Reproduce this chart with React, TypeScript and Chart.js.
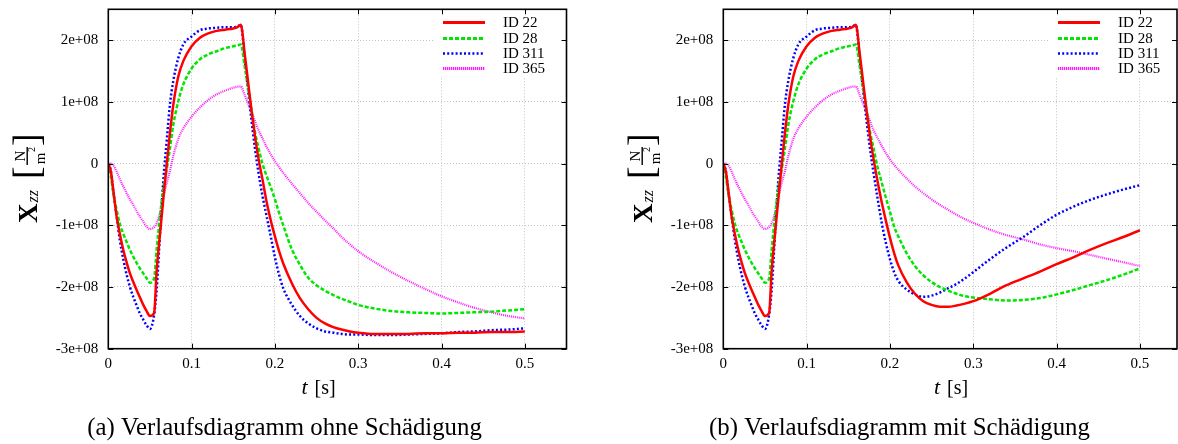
import React, { useEffect, useRef } from 'react';
import { Chart, registerables } from 'chart.js';

Chart.register(...registerables);

// time t [s]
const timeS = [0, 0.003, 0.006, 0.01, 0.014, 0.018, 0.022, 0.026, 0.03, 0.034, 0.038, 0.042, 0.046, 0.05, 0.055, 0.058, 0.062, 0.066, 0.07, 0.074, 0.078, 0.084, 0.09, 0.1, 0.11, 0.12, 0.13, 0.14, 0.15, 0.155, 0.159, 0.164, 0.168, 0.172, 0.176, 0.18, 0.185, 0.19, 0.195, 0.2, 0.205, 0.21, 0.22, 0.23, 0.24, 0.25, 0.26, 0.27, 0.28, 0.29, 0.3, 0.32, 0.34, 0.36, 0.38, 0.4, 0.42, 0.44, 0.46, 0.48, 0.5];

// X_zz in units of 1e+08 N/m^2 — (a) ohne Schädigung
const a_id22 = [0, -0.12, -0.43, -0.86, -1.15, -1.40, -1.60, -1.78, -1.92, -2.05, -2.17, -2.29, -2.39, -2.47, -2.42, -1.75, -1.15, -0.58, -0.03, 0.50, 0.95, 1.41, 1.66, 1.90, 2.04, 2.11, 2.15, 2.17, 2.19, 2.21, 2.25, 1.75, 1.30, 0.85, 0.45, 0.10, -0.25, -0.62, -0.92, -1.18, -1.42, -1.62, -1.93, -2.18, -2.36, -2.50, -2.59, -2.65, -2.69, -2.72, -2.74, -2.76, -2.76, -2.76, -2.75, -2.75, -2.74, -2.74, -2.73, -2.73, -2.72];
const a_id28 = [0, -0.20, -0.48, -0.75, -0.98, -1.14, -1.27, -1.40, -1.51, -1.61, -1.70, -1.78, -1.86, -1.93, -1.86, -1.40, -0.86, -0.40, -0.10, 0.25, 0.63, 1.01, 1.28, 1.54, 1.69, 1.77, 1.82, 1.87, 1.90, 1.915, 1.93, 1.55, 1.20, 0.86, 0.52, 0.27, 0.00, -0.20, -0.38, -0.58, -0.80, -1.00, -1.38, -1.64, -1.85, -1.97, -2.06, -2.13, -2.19, -2.24, -2.29, -2.35, -2.39, -2.41, -2.42, -2.43, -2.42, -2.41, -2.40, -2.38, -2.36];
const a_id311 = [0, -0.12, -0.45, -0.85, -1.25, -1.55, -1.80, -2.00, -2.16, -2.30, -2.43, -2.53, -2.62, -2.68, -2.45, -2.05, -1.15, -0.28, 0.35, 0.96, 1.34, 1.71, 1.93, 2.06, 2.16, 2.19, 2.20, 2.21, 2.21, 2.22, 2.25, 1.66, 1.17, 0.69, 0.25, -0.12, -0.52, -0.85, -1.18, -1.52, -1.80, -2.02, -2.28, -2.47, -2.59, -2.67, -2.72, -2.74, -2.76, -2.77, -2.77, -2.78, -2.78, -2.77, -2.76, -2.75, -2.73, -2.72, -2.70, -2.69, -2.67];
const a_id365 = [0, 0.00, -0.03, -0.13, -0.26, -0.37, -0.48, -0.58, -0.67, -0.77, -0.86, -0.94, -1.02, -1.06, -1.03, -0.97, -0.80, -0.55, -0.32, -0.12, 0.12, 0.40, 0.57, 0.76, 0.91, 1.03, 1.12, 1.18, 1.23, 1.245, 1.25, 1.10, 0.97, 0.83, 0.69, 0.55, 0.41, 0.27, 0.15, 0.04, -0.06, -0.15, -0.32, -0.48, -0.64, -0.78, -0.92, -1.05, -1.19, -1.31, -1.42, -1.60, -1.76, -1.90, -2.03, -2.15, -2.25, -2.34, -2.41, -2.47, -2.51];

// X_zz in units of 1e+08 N/m^2 — (b) mit Schädigung
const b_id22 = [0, -0.12, -0.43, -0.86, -1.15, -1.40, -1.60, -1.78, -1.92, -2.05, -2.17, -2.29, -2.39, -2.47, -2.42, -1.75, -1.15, -0.58, -0.03, 0.50, 0.95, 1.41, 1.66, 1.90, 2.04, 2.11, 2.15, 2.17, 2.19, 2.21, 2.25, 1.75, 1.30, 0.85, 0.45, 0.10, -0.28, -0.62, -0.92, -1.20, -1.45, -1.65, -1.92, -2.11, -2.23, -2.29, -2.32, -2.32, -2.30, -2.27, -2.23, -2.11, -1.97, -1.86, -1.75, -1.63, -1.52, -1.40, -1.29, -1.19, -1.08];
const b_id28 = [0, -0.20, -0.48, -0.75, -0.98, -1.14, -1.27, -1.40, -1.51, -1.61, -1.70, -1.78, -1.86, -1.93, -1.86, -1.40, -0.86, -0.40, -0.10, 0.25, 0.63, 1.01, 1.28, 1.54, 1.69, 1.77, 1.82, 1.87, 1.90, 1.915, 1.93, 1.55, 1.20, 0.86, 0.52, 0.27, -0.05, -0.30, -0.55, -0.78, -1.02, -1.18, -1.45, -1.66, -1.81, -1.92, -2.00, -2.06, -2.11, -2.15, -2.17, -2.20, -2.22, -2.21, -2.18, -2.12, -2.05, -1.97, -1.89, -1.80, -1.70];
const b_id311 = [0, -0.12, -0.45, -0.85, -1.25, -1.55, -1.80, -2.00, -2.16, -2.30, -2.43, -2.53, -2.62, -2.68, -2.45, -2.05, -1.15, -0.28, 0.35, 0.96, 1.34, 1.71, 1.93, 2.06, 2.16, 2.19, 2.20, 2.21, 2.21, 2.22, 2.25, 1.66, 1.17, 0.69, 0.25, -0.12, -0.55, -0.95, -1.28, -1.55, -1.76, -1.90, -2.04, -2.12, -2.16, -2.14, -2.09, -2.02, -1.95, -1.86, -1.76, -1.55, -1.36, -1.19, -1.00, -0.83, -0.70, -0.59, -0.50, -0.42, -0.35];
const b_id365 = [0, 0.00, -0.03, -0.13, -0.26, -0.37, -0.48, -0.58, -0.67, -0.77, -0.86, -0.94, -1.02, -1.06, -1.03, -0.97, -0.80, -0.55, -0.32, -0.12, 0.12, 0.40, 0.57, 0.76, 0.91, 1.03, 1.12, 1.18, 1.23, 1.245, 1.25, 1.10, 0.97, 0.83, 0.69, 0.55, 0.42, 0.29, 0.17, 0.07, -0.02, -0.10, -0.24, -0.37, -0.48, -0.58, -0.67, -0.75, -0.83, -0.90, -0.96, -1.07, -1.16, -1.23, -1.31, -1.37, -1.42, -1.48, -1.54, -1.60, -1.66];

const seriesNames = ['ID 22', 'ID 28', 'ID 311', 'ID 365'];
const seriesColors = ['#ff0000', '#00e600', '#0000ff', '#ff1aff'];
const seriesWidths = [2.5, 2.5, 2.5, 2.2];
const seriesDashes: number[][] = [[], [4, 2], [2, 2.2], [1, 1]];
const legendWidths = [3, 3, 2.5, 3];
const legendDashes: number[][] = [[], [4, 2], [2, 2.2], [1.3, 0.7]];

const captionA = '(a) Verlaufsdiagramm ohne Schädigung';
const captionB = '(b) Verlaufsdiagramm mit Schädigung';

const FONT = '"Liberation Serif", "DejaVu Serif", serif';

type PanelProps = {
  left: number;
  width: number;
  yAxisWidth: number;
  padRight: number;
  xMax: number;
  series: number[][];
  caption: string;
  captionCenter: number;
  titleCenter: number;
};

function makeDecor(p: PanelProps) {
  return {
    id: 'panelDecor',
    afterDatasetsDraw(chart: any) {
      const ctx = chart.ctx as CanvasRenderingContext2D;
      const { top } = chart.chartArea;
      const xs = chart.scales.x;
      const R = xs.getPixelForValue(0.55);
      // legend box
      ctx.save();
      ctx.fillStyle = '#ffffff';
      ctx.fillRect(R - 133.5, top + 1.5, 131, 66);
      chart.data.datasets.forEach((ds: any, i: number) => {
        const y = Math.round(top + 13 + i * 15.3) + 0.5;
        const x1 = Math.round(R - 123.5);
        ctx.beginPath();
        ctx.strokeStyle = seriesColors[i];
        ctx.lineWidth = legendWidths[i];
        ctx.setLineDash(legendDashes[i]);
        ctx.moveTo(x1, y);
        ctx.lineTo(x1 + 42, y);
        ctx.stroke();
        ctx.setLineDash([]);
        ctx.fillStyle = '#000';
        ctx.font = `15px ${FONT}`;
        ctx.textAlign = 'left';
        ctx.textBaseline = 'middle';
        ctx.fillText(ds.label, R - 63.5, y + 0.5);
      });
      ctx.restore();
    },
    afterDraw(chart: any) {
      const ctx = chart.ctx as CanvasRenderingContext2D;
      const { left, top, bottom } = chart.chartArea;
      const right = Math.min(chart.chartArea.right, chart.width - 1);
      const xs = chart.scales.x;
      const ys = chart.scales.y;
      ctx.save();
      // frame
      ctx.strokeStyle = '#000';
      ctx.lineWidth = 1.6;
      ctx.strokeRect(left, top, right - left, bottom - top);
      // inward ticks
      ctx.lineWidth = 1;
      ctx.beginPath();
      xs.ticks.forEach((t: any) => {
        const x = Math.round(xs.getPixelForValue(t.value)) + 0.5;
        ctx.moveTo(x, bottom);
        ctx.lineTo(x, bottom - 5);
        ctx.moveTo(x, top);
        ctx.lineTo(x, top + 5);
      });
      ys.ticks.forEach((t: any) => {
        const y = Math.round(ys.getPixelForValue(t.value)) + 0.5;
        ctx.moveTo(left, y);
        ctx.lineTo(left + 5, y);
        ctx.moveTo(right, y);
        ctx.lineTo(right - 5, y);
      });
      ctx.stroke();

      ctx.fillStyle = '#000';
      // y-axis title: X_zz [N/m^2], rotated
      ctx.save();
      ctx.translate(left - 71, 223);
      ctx.rotate(-Math.PI / 2);
      ctx.textBaseline = 'alphabetic';
      ctx.textAlign = 'left';
      ctx.font = `bold 27px ${FONT}`;
      ctx.fillText('X', 0, 0);
      const wX = ctx.measureText('X').width;
      ctx.font = `italic 16px ${FONT}`;
      ctx.fillText('zz', wX + 1, 1);
      ctx.font = `38px ${FONT}`;
      ctx.fillText('[', 44, 2);
      ctx.fillText(']', 77, 2);
      ctx.font = `15px ${FONT}`;
      ctx.textAlign = 'center';
      ctx.fillText('N', 67, -12);
      ctx.fillRect(58, -10.8, 18, 1.4);
      ctx.fillText('m', 64.5, 8);
      ctx.font = `10px ${FONT}`;
      ctx.textAlign = 'left';
      ctx.fillText('2', 71, -2);
      ctx.restore();

      // x-axis title: t [s]
      ctx.textBaseline = 'alphabetic';
      ctx.textAlign = 'left';
      ctx.font = `italic 22px ${FONT}`;
      const wt = ctx.measureText('t').width;
      ctx.font = `20px ${FONT}`;
      const ws = ctx.measureText('[s]').width;
      const total = wt + 7 + ws;
      const x0 = p.titleCenter - total / 2;
      ctx.font = `italic 22px ${FONT}`;
      ctx.fillText('t', x0, 394);
      ctx.font = `20px ${FONT}`;
      ctx.fillText('[s]', x0 + wt + 7, 394);

      // caption
      ctx.font = `24.8px ${FONT}`;
      ctx.textAlign = 'center';
      ctx.fillText(p.caption, p.captionCenter, 435);
      ctx.restore();
    },
  };
}

function Panel(p: PanelProps) {
  const ref = useRef<HTMLCanvasElement>(null);
  useEffect(() => {
    const canvas = ref.current;
    if (!canvas) return;
    const chart = new Chart(canvas, {
      type: 'line',
      data: {
        datasets: p.series.map((s, i) => ({
          label: seriesNames[i],
          data: timeS.map((t, k) => ({ x: t, y: s[k] })),
          borderColor: seriesColors[i],
          backgroundColor: seriesColors[i],
          borderWidth: seriesWidths[i],
          borderDash: seriesDashes[i],
          borderCapStyle: 'butt',
          borderJoinStyle: 'round',
          pointRadius: 0,
          fill: false,
          cubicInterpolationMode: 'monotone',
        })),
      },
      options: {
        responsive: false,
        animation: false,
        devicePixelRatio: 1,
        layout: { padding: { top: 9.3, right: p.padRight, bottom: 0, left: 0 } },
        plugins: { legend: { display: false }, tooltip: { enabled: false } },
        scales: {
          x: {
            type: 'linear',
            min: 0,
            max: p.xMax,
            afterFit: (s: any) => { s.height = 95.3; s.paddingLeft = 0; s.paddingRight = 0; },
            ticks: {
              stepSize: 0.1,
              includeBounds: false,
              padding: 6,
              maxRotation: 0,
              autoSkip: false,
              color: '#000',
              font: { family: FONT, size: 15 },
              callback: (v: any) => String(Math.round(Number(v) * 10) / 10),
            },
            grid: { color: '#c2c2c2', lineWidth: 1, drawTicks: false },
            border: { display: false, dash: [1, 2] },
          },
          y: {
            type: 'linear',
            min: -3,
            max: 2.5,
            afterFit: (s: any) => { s.width = p.yAxisWidth; s.paddingTop = 0; s.paddingBottom = 0; },
            ticks: {
              stepSize: 1,
              includeBounds: false,
              padding: 10,
              color: '#000',
              font: { family: FONT, size: 15 },
              callback: (v: any) => (Number(v) === 0 ? '0' : `${Math.round(Number(v))}e+08`),
            },
            grid: { color: '#c2c2c2', lineWidth: 1, drawTicks: false },
            border: { display: false, dash: [1, 2] },
          },
        },
      } as any,
      plugins: [makeDecor(p)],
    });
    return () => chart.destroy();
  }, []);
  return (
    <canvas
      ref={ref}
      width={p.width}
      height={444}
      style={{ position: 'absolute', left: p.left, top: 0, width: p.width, height: 444 }}
    />
  );
}

export default function App() {
  return (
    <div style={{ position: 'absolute', left: 0, top: 0, width: 1178, height: 444, background: '#fff', overflow: 'hidden' }}>
      <Panel
        left={0}
        width={589}
        yAxisWidth={108.3}
        padRight={22.5}
        xMax={0.55}
        series={[a_id22, a_id28, a_id311, a_id365]}
        caption={captionA}
        captionCenter={284.5}
        titleCenter={318.5}
      />
      <Panel
        left={589}
        width={589}
        yAxisWidth={134.3}
        padRight={0}
        xMax={0.5457}
        series={[b_id22, b_id28, b_id311, b_id365]}
        caption={captionB}
        captionCenter={310.5}
        titleCenter={362}
      />
    </div>
  );
}
